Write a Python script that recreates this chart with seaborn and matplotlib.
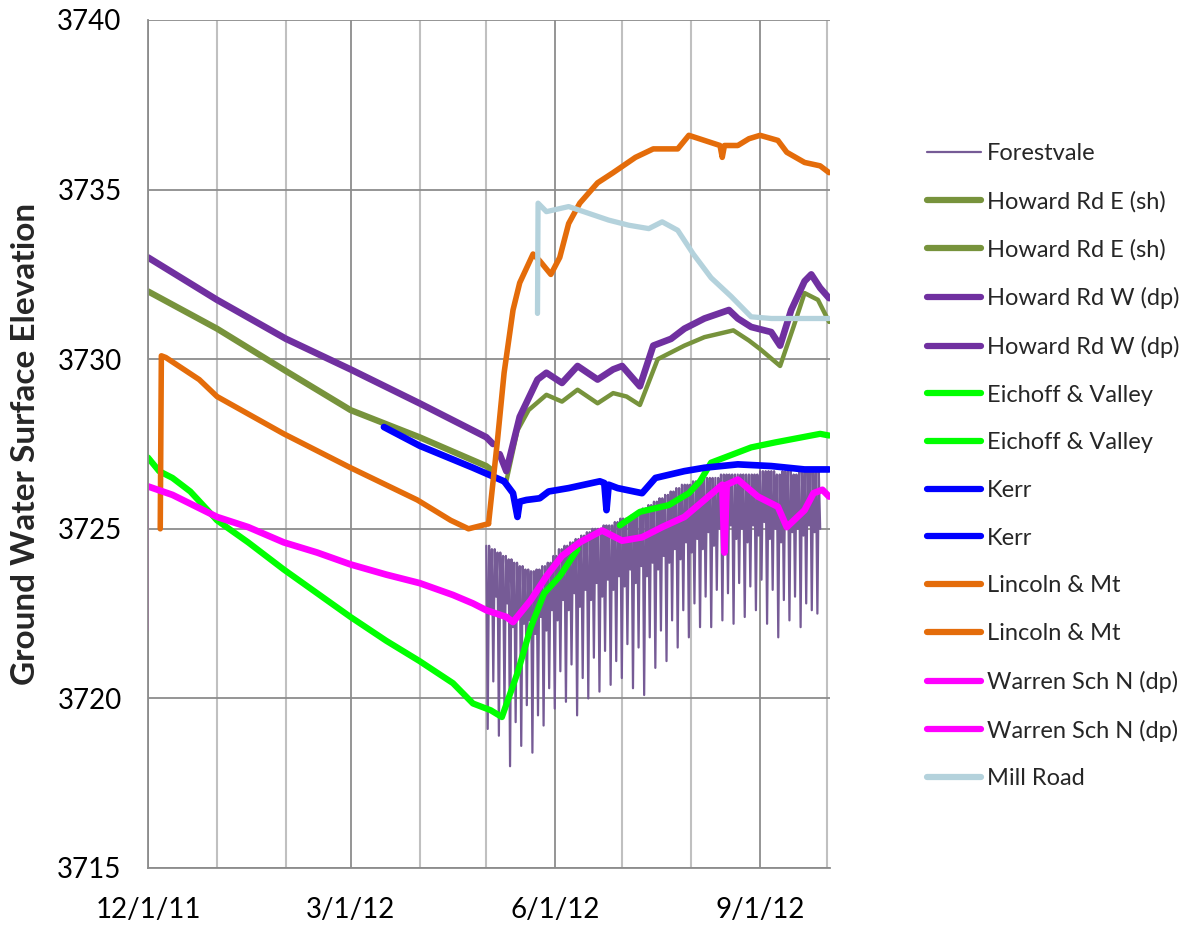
import numpy as np
import pandas as pd
import matplotlib
matplotlib.use("Agg")
import matplotlib.pyplot as plt
import matplotlib.dates as mdates
import seaborn as sns

sns.set_style("white")
plt.rcParams['font.family'] = ['Lato', 'DejaVu Sans']

# Forestvale logger - pumping well, daily drawdowns (peak / deep dip / shallow dip)
forest_peaks = [3724.5, 3724.4, 3724.3, 3724.2, 3724.1, 3724.0, 3723.9, 3723.8, 3723.75, 3723.8,
                3723.9, 3724.0, 3724.2, 3724.4, 3724.5, 3724.6, 3724.7, 3724.8, 3724.9, 3725.0,
                3725.0, 3725.1, 3725.1, 3725.2, 3725.3, 3725.3, 3725.4, 3725.5, 3725.6, 3725.7,
                3725.8, 3725.9, 3726.0, 3726.1, 3726.2, 3726.3, 3726.3, 3726.4, 3726.4, 3726.5,
                3726.5, 3726.5, 3726.6, 3726.6, 3726.6, 3726.6, 3726.6, 3726.6, 3726.6, 3726.7,
                3726.7, 3726.7, 3726.6, 3726.7, 3726.7, 3726.6, 3726.7, 3726.7, 3726.7, 3726.7]
forest_deep = [3719.1, 3720.5, 3718.9, 3719.6, 3718.0, 3719.3, 3718.6, 3719.8, 3718.4, 3719.5,
               3719.2, 3720.3, 3719.7, 3720.8, 3719.9, 3721.0, 3719.5, 3720.6, 3720.0, 3721.2,
               3720.2, 3721.4, 3720.4, 3721.1, 3720.6, 3721.6, 3720.3, 3721.5, 3720.1, 3721.8,
               3720.9, 3722.0, 3721.1, 3722.3, 3721.5, 3722.6, 3721.8, 3722.8, 3722.1, 3723.0,
               3722.1, 3723.2, 3722.3, 3723.1, 3722.2, 3723.4, 3722.4, 3723.3, 3722.6, 3723.5,
               3722.2, 3723.2, 3721.8, 3722.9, 3722.3, 3723.0, 3722.1, 3722.8, 3722.6, 3722.5]
forest_shallow = [3722.6, 3723.0, 3722.4, 3722.8, 3722.1, 3722.5, 3722.2, 3722.3, 3721.9, 3722.4,
                  3722.0, 3722.6, 3722.3, 3722.9, 3722.6, 3723.1, 3722.7, 3723.2, 3722.9, 3723.4,
                  3723.0, 3723.5, 3723.2, 3723.6, 3723.3, 3723.8, 3723.4, 3723.9, 3723.6, 3724.0,
                  3723.8, 3724.2, 3724.0, 3724.4, 3724.1, 3724.6, 3724.3, 3724.7, 3724.4, 3724.9,
                  3724.5, 3725.0, 3724.6, 3725.1, 3724.7, 3725.0, 3724.6, 3725.1, 3724.8, 3725.2,
                  3724.7, 3725.0, 3724.6, 3725.1, 3724.9, 3725.0, 3724.8, 3725.1, 3724.9, 3725.0]

hre1_dates = ['2011-12-01', '2012-01-01', '2012-02-01', '2012-03-01', '2012-04-01', '2012-05-01', '2012-05-03']
hre1_elev = [3732.0, 3730.9, 3729.65, 3728.5, 3727.7, 3726.85, 3726.75]
hre2_dates = ['2012-05-10', '2012-05-15', '2012-05-20', '2012-05-28', '2012-06-04', '2012-06-11', '2012-06-20',
              '2012-06-27', '2012-07-03', '2012-07-09', '2012-07-17', '2012-07-23', '2012-07-29', '2012-08-07',
              '2012-08-20', '2012-08-27', '2012-09-01', '2012-09-10', '2012-09-16', '2012-09-21', '2012-09-24',
              '2012-09-27', '2012-10-02']
hre2_elev = [3726.4, 3727.9, 3728.5, 3728.95, 3728.75, 3729.1, 3728.7, 3729.0, 3728.9, 3728.65, 3730.0,
             3730.2, 3730.4, 3730.65, 3730.85, 3730.55, 3730.3, 3729.8, 3730.95, 3731.95, 3731.85, 3731.75,
             3731.1]

hrw1_dates = ['2011-12-01', '2012-01-01', '2012-02-01', '2012-03-01', '2012-04-01', '2012-05-01', '2012-05-04']
hrw1_elev = [3733.0, 3731.75, 3730.6, 3729.7, 3728.7, 3727.7, 3727.5]
hrw2_dates = ['2012-05-07', '2012-05-10', '2012-05-16', '2012-05-24', '2012-05-28', '2012-06-04', '2012-06-11',
              '2012-06-20', '2012-06-27', '2012-07-01', '2012-07-09', '2012-07-15', '2012-07-23', '2012-07-29',
              '2012-08-07', '2012-08-18', '2012-08-22', '2012-08-28', '2012-09-06', '2012-09-10', '2012-09-15',
              '2012-09-21', '2012-09-24', '2012-09-28', '2012-10-02']
hrw2_elev = [3727.2, 3726.7, 3728.3, 3729.4, 3729.6, 3729.3, 3729.8, 3729.4, 3729.7, 3729.8, 3729.2,
             3730.4, 3730.6, 3730.9, 3731.2, 3731.45, 3731.2, 3730.95, 3730.8, 3730.4, 3731.45, 3732.3,
             3732.5, 3732.1, 3731.8]

ev1_dates = ['2011-12-01', '2011-12-06', '2011-12-12', '2011-12-20', '2012-01-01', '2012-01-15', '2012-01-31',
             '2012-02-15', '2012-03-01', '2012-03-17', '2012-04-01', '2012-04-16', '2012-04-25', '2012-05-03',
             '2012-05-08', '2012-05-15', '2012-05-21', '2012-05-27', '2012-06-03', '2012-06-11']
ev1_elev = [3727.1, 3726.7, 3726.5, 3726.1, 3725.25, 3724.6, 3723.8, 3723.1, 3722.4, 3721.7, 3721.1,
            3720.45, 3719.85, 3719.65, 3719.45, 3720.75, 3722.1, 3723.1, 3723.6, 3724.4]
ev2_dates = ['2012-06-30', '2012-07-09', '2012-07-22', '2012-07-31', '2012-08-05', '2012-08-10', '2012-08-20',
             '2012-08-28', '2012-09-08', '2012-09-20', '2012-09-28', '2012-10-02']
ev2_elev = [3725.1, 3725.5, 3725.7, 3726.05, 3726.4, 3726.95, 3727.2, 3727.4, 3727.55, 3727.7, 3727.8, 3727.75]

kerr1_dates = ['2012-03-16', '2012-04-01', '2012-04-25', '2012-05-02', '2012-05-09']
kerr1_elev = [3728.0, 3727.45, 3726.8, 3726.6, 3726.4]
kerr2_dates = ['2012-05-09', '2012-05-13', '2012-05-15', '2012-05-16', '2012-05-19', '2012-05-25', '2012-05-29',
               '2012-06-07', '2012-06-21', '2012-06-23', '2012-06-24', '2012-06-25', '2012-06-29', '2012-07-10',
               '2012-07-16', '2012-07-29', '2012-08-07', '2012-08-22', '2012-09-06', '2012-09-21', '2012-10-02']
kerr2_elev = [3726.4, 3726.05, 3725.35, 3725.8, 3725.85, 3725.9, 3726.1, 3726.2, 3726.4, 3726.35, 3725.55,
              3726.3, 3726.2, 3726.05, 3726.5, 3726.7, 3726.8, 3726.9, 3726.85, 3726.75, 3726.75]

lin1_dates = ['2011-12-06 12:00', '2011-12-07', '2011-12-09', '2011-12-24', '2012-01-01', '2012-01-31',
              '2012-03-01', '2012-03-31', '2012-04-15', '2012-04-23', '2012-05-02']
lin1_elev = [3725.0, 3730.1, 3730.05, 3729.4, 3728.9, 3727.8, 3726.8, 3725.85, 3725.25, 3725.0, 3725.15]
lin2_dates = ['2012-05-02', '2012-05-06', '2012-05-09', '2012-05-13', '2012-05-16', '2012-05-22', '2012-05-25',
              '2012-05-30', '2012-06-03', '2012-06-07', '2012-06-12', '2012-06-20', '2012-06-27', '2012-07-07',
              '2012-07-15', '2012-07-26', '2012-07-31', '2012-08-07', '2012-08-14', '2012-08-15', '2012-08-16',
              '2012-08-22', '2012-08-27', '2012-09-01', '2012-09-09', '2012-09-13', '2012-09-21', '2012-09-28',
              '2012-10-02']
lin2_elev = [3725.15, 3727.6, 3729.6, 3731.45, 3732.25, 3733.1, 3732.9, 3732.5, 3733.0, 3734.0, 3734.6,
             3735.2, 3735.5, 3735.95, 3736.2, 3736.2, 3736.6, 3736.45, 3736.3, 3735.95, 3736.3, 3736.3,
             3736.5, 3736.6, 3736.45, 3736.1, 3735.8, 3735.7, 3735.5]

wsn0_dates = ['2011-12-01 00:00', '2011-12-01 01:00']
wsn0_elev = [3722.0, 3726.3]
wsn1_dates = ['2011-12-01', '2011-12-12', '2012-01-01', '2012-01-15', '2012-01-31', '2012-02-15', '2012-03-01',
              '2012-03-17', '2012-04-01', '2012-04-16', '2012-04-25', '2012-05-01', '2012-05-10']
wsn1_elev = [3726.25, 3726.0, 3725.35, 3725.05, 3724.6, 3724.3, 3723.95, 3723.65, 3723.4, 3723.05,
             3722.8, 3722.6, 3722.4]
wsn2_dates = ['2012-05-10', '2012-05-13', '2012-05-21', '2012-05-28', '2012-06-04', '2012-06-12', '2012-06-22',
              '2012-07-01', '2012-07-10', '2012-07-19', '2012-07-29', '2012-08-07', '2012-08-15', '2012-08-16',
              '2012-08-17', '2012-08-22', '2012-08-31', '2012-09-09', '2012-09-13', '2012-09-21', '2012-09-25',
              '2012-09-29', '2012-10-02']
wsn2_elev = [3722.4, 3722.25, 3722.9, 3723.6, 3724.2, 3724.6, 3724.95, 3724.65, 3724.75, 3725.05, 3725.35,
             3725.85, 3726.3, 3724.3, 3726.3, 3726.45, 3725.95, 3725.65, 3725.05, 3725.55, 3726.05, 3726.15,
             3725.95]

mill_dates = ['2012-05-24', '2012-05-24 06:00', '2012-05-28', '2012-06-07', '2012-06-16', '2012-06-25',
              '2012-07-04', '2012-07-13', '2012-07-19', '2012-07-26', '2012-08-02', '2012-08-10', '2012-08-19',
              '2012-08-28', '2012-09-06', '2012-09-21', '2012-10-02']
mill_elev = [3731.35, 3734.6, 3734.35, 3734.5, 3734.3, 3734.1, 3733.95, 3733.85, 3734.05, 3733.8, 3733.1,
             3732.4, 3731.85, 3731.25, 3731.2, 3731.2, 3731.2]

fig = plt.figure(figsize=(11.96, 9.31), dpi=100)
ax = fig.add_axes([148 / 1196, 63 / 931, 682 / 1196, 848 / 931])


def draw(dates, elev, color, lw, label):
    d = pd.DataFrame({'date': pd.to_datetime(dates, format='ISO8601'), 'elev': elev})
    sns.lineplot(data=d, x='date', y='elev', color=color, linewidth=lw, label=label,
                 estimator=None, sort=False, ax=ax, solid_capstyle='round')


# Forestvale: peak, deep dip, peak, shallow dip for each cycle
fv_elev = np.column_stack([forest_peaks, forest_deep, forest_peaks, forest_shallow]).ravel()
fv_dates = pd.date_range('2012-05-01', '2012-09-28', periods=len(fv_elev))
draw(fv_dates, fv_elev, '#765B96', 1.6, 'Forestvale')

draw(hre1_dates, hre1_elev, '#77933C', 4.5, 'Howard Rd E (sh)')
draw(hre2_dates, hre2_elev, '#77933C', 3.2, 'Howard Rd E (sh)')
draw(hrw1_dates, hrw1_elev, '#7030A0', 4.8, 'Howard Rd W (dp)')
draw(hrw2_dates, hrw2_elev, '#7030A0', 4.8, 'Howard Rd W (dp)')
draw(ev1_dates, ev1_elev, '#00FF00', 4.5, 'Eichoff & Valley')
draw(ev2_dates, ev2_elev, '#00FF00', 4.5, 'Eichoff & Valley')
draw(kerr1_dates, kerr1_elev, '#0000FF', 4.8, 'Kerr')
draw(kerr2_dates, kerr2_elev, '#0000FF', 4.8, 'Kerr')
draw(lin1_dates, lin1_elev, '#E46C0A', 4.0, 'Lincoln & Mt')
draw(lin2_dates, lin2_elev, '#E46C0A', 4.0, 'Lincoln & Mt')
draw(wsn0_dates, wsn0_elev, '#FF00FF', 1.2, '_nolegend_')
draw(wsn1_dates, wsn1_elev, '#FF00FF', 4.8, 'Warren Sch N (dp)')
draw(wsn2_dates, wsn2_elev, '#FF00FF', 4.8, 'Warren Sch N (dp)')
draw(mill_dates, mill_elev, '#B4D2DC', 3.8, 'Mill Road')

# axes styling
ax.set_xlim(pd.Timestamp('2011-12-01'), pd.Timestamp('2012-10-02 10:00'))
ax.set_ylim(3715, 3740)
ax.set_yticks([3715, 3720, 3725, 3730, 3735, 3740])
ax.xaxis.set_major_locator(mdates.MonthLocator(bymonth=[3, 6, 9, 12]))
ax.xaxis.set_minor_locator(mdates.MonthLocator())
ax.xaxis.set_major_formatter(mdates.DateFormatter('%-m/%-d/%y'))

ax.grid(which='major', color='#8C8C8C', linewidth=1.3)
ax.grid(which='minor', axis='x', color='#C0C0C0', linewidth=1.5)
ax.set_axisbelow(True)
for s in ['top', 'right']:
    ax.spines[s].set_visible(False)
for s in ['left', 'bottom']:
    ax.spines[s].set_color('#8C8C8C')
    ax.spines[s].set_linewidth(1.3)

ax.tick_params(axis='both', which='major', direction='out', length=7, width=1.3,
               color='#8C8C8C', labelsize=20, labelcolor='black')
ax.tick_params(axis='y', pad=12)
ax.tick_params(axis='x', pad=14)
ax.tick_params(axis='x', which='minor', length=0)
ax.set_xlabel('')
ax.set_ylabel('Ground Water Surface Elevation', fontsize=24, fontweight='bold', va='center')
ax.yaxis.set_label_coords(-0.18, 0.5)

handles, labels = ax.get_legend_handles_labels()
leg = ax.legend(handles, labels, loc='upper left', bbox_to_anchor=(927 / 1196, 1 - 143 / 931),
                bbox_transform=fig.transFigure, frameon=False, fontsize=17,
                handlelength=2.3, handletextpad=0.25, labelspacing=1.13, borderpad=0, borderaxespad=0)
for line in leg.get_lines()[1:]:
    line.set_linewidth(4.5)

fig.savefig('out.png', dpi=100)
